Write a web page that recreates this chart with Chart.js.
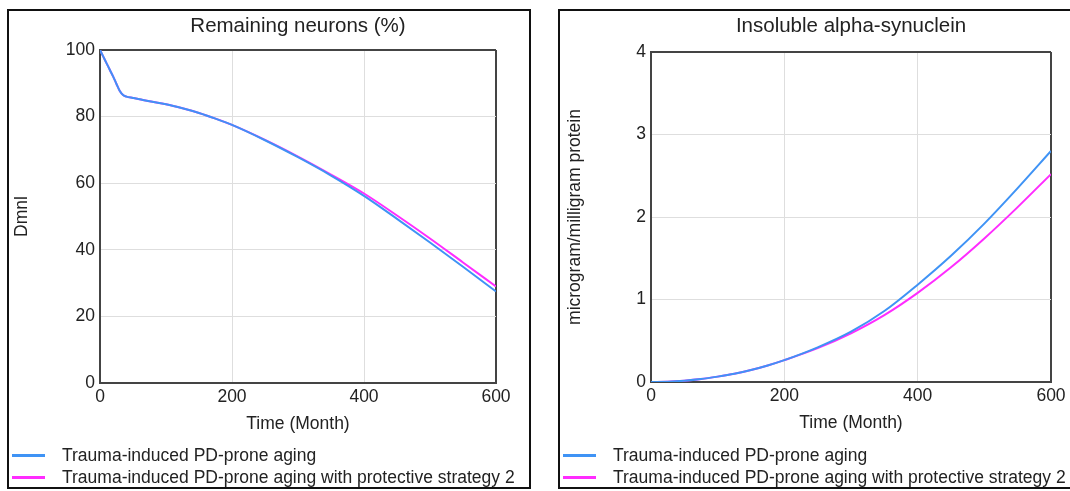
<!DOCTYPE html>
<html>
<head>
<meta charset="utf-8">
<script src="https://cdn.jsdelivr.net/npm/chart.js@4.4.1/dist/chart.umd.min.js"></script>
<style>
  body { margin: 0; background: #fff; width: 1070px; height: 491px; overflow: hidden; position: relative; font-family: "Liberation Sans", Arial, sans-serif; }
  .panel { position: absolute; top: 9px; width: 520px; height: 476px; border: 2px solid #111; background: #fff; }
  .box { position: absolute; left: 0; top: 0; width: 520px; height: 476px; }
  .legend { position: absolute; left: 0; top: 433px; font-size: 17.5px; color: #222; }
  .legend div { position: relative; height: 22px; line-height: 22px; padding-left: 53px; white-space: nowrap; }
  .legend span { position: absolute; left: 3px; top: 10px; width: 33px; height: 3px; }
</style>
</head>
<body>
<div class="panel" style="left:7px">
  <div class="box"><canvas id="neuronChart"></canvas></div>
  <div class="legend">
    <div><span style="background:#3f93f5"></span>Trauma-induced PD-prone aging</div>
    <div><span style="background:#ff2cff"></span>Trauma-induced PD-prone aging with protective strategy 2</div>
  </div>
</div>
<div class="panel" style="left:558px">
  <div class="box"><canvas id="synucleinChart"></canvas></div>
  <div class="legend">
    <div><span style="background:#3f93f5"></span>Trauma-induced PD-prone aging</div>
    <div><span style="background:#ff2cff"></span>Trauma-induced PD-prone aging with protective strategy 2</div>
  </div>
</div>
<script>
// Remaining neurons (%)
const neuronMonths = [0, 5, 10, 15, 20, 25, 30, 35, 40, 50, 60, 75, 100, 125, 150, 175, 200, 250, 300, 350, 400, 450, 500, 550, 600];
const neuronsAging = [100, 98, 96, 94, 92, 89.8, 87.7, 86.5, 86.0, 85.6, 85.2, 84.6, 83.7, 82.5, 81.1, 79.4, 77.5, 72.9, 67.8, 62.3, 56.2, 49.3, 42.2, 34.9, 27.5];
const neuronsStrategy2 = [100, 98, 96, 94, 92, 89.8, 87.7, 86.5, 86.0, 85.6, 85.2, 84.6, 83.7, 82.5, 81.1, 79.4, 77.5, 73.0, 68.0, 62.6, 56.9, 50.3, 43.4, 36.2, 29.0];

// Insoluble alpha-synuclein
const synMonths = [0, 25, 50, 75, 100, 125, 150, 175, 200, 250, 300, 350, 400, 450, 500, 550, 600];
const synAging = [0, 0.003, 0.015, 0.035, 0.065, 0.1, 0.145, 0.2, 0.265, 0.42, 0.61, 0.86, 1.18, 1.53, 1.92, 2.35, 2.80];
const synStrategy2 = [0, 0.003, 0.015, 0.035, 0.065, 0.1, 0.145, 0.2, 0.265, 0.41, 0.59, 0.81, 1.08, 1.39, 1.74, 2.12, 2.52];

const xTicks = [0, 200, 400, 600];
const seriesNames = ['Trauma-induced PD-prone aging', 'Trauma-induced PD-prone aging with protective strategy 2'];
const seriesColors = ['#3f93f5', '#ff2cff'];

const FONT = "'Liberation Sans', Arial, sans-serif";
const edge = '#444';
const grid = '#dedede';

function toPoints(xs, ys) {
    return xs.map((x, i) => ({ x: x, y: ys[i] }));
}

function makeChart(id, cfg) {
    const ctx = document.getElementById(id).getContext('2d');
    return new Chart(ctx, {
        type: 'line',
        data: {
            datasets: [
                { label: seriesNames[0], data: toPoints(cfg.xs, cfg.a), borderColor: seriesColors[0], borderWidth: 2 },
                { label: seriesNames[1], data: toPoints(cfg.xs, cfg.b), borderColor: seriesColors[1], borderWidth: 2 }
            ]
        },
        options: {
            responsive: true,
            maintainAspectRatio: false,
            animation: false,
            layout: { padding: { left: 0, right: cfg.padRight, top: 0, bottom: cfg.padBottom } },
            elements: {
                point: { radius: 0 },
                line: { cubicInterpolationMode: 'monotone', fill: false }
            },
            plugins: {
                legend: { display: false },
                tooltip: { enabled: false },
                title: {
                    display: true,
                    fullSize: false,
                    text: cfg.title,
                    color: '#222',
                    font: { size: 20.5, family: FONT, weight: 'normal' },
                    padding: { top: 3, bottom: cfg.titleGap }
                }
            },
            scales: {
                x: {
                    type: 'linear',
                    min: 0,
                    max: 600,
                    afterBuildTicks: (s) => { s.ticks = xTicks.map(v => ({ value: v })); },
                    afterFit: (s) => { s.height = 56; },
                    grid: {
                        drawTicks: false,
                        color: (c) => (c.tick && c.tick.value === 600 ? edge : grid),
                        lineWidth: (c) => (c.tick && c.tick.value === 600 ? 2 : 1)
                    },
                    border: { color: edge, width: 2 },
                    ticks: { color: '#222', padding: 4, font: { size: 17.5, family: FONT } },
                    title: { display: true, text: 'Time (Month)', color: '#222', padding: { top: 0, bottom: 4 }, font: { size: 17.5, family: FONT } }
                },
                y: {
                    min: 0,
                    max: cfg.yMax,
                    ticks: { stepSize: cfg.yStep, color: '#222', padding: 5, font: { size: 17.5, family: FONT } },
                    afterFit: (s) => { s.width = 91; },
                    grid: {
                        drawTicks: false,
                        color: (c) => (c.tick && c.tick.value === cfg.yMax ? edge : grid),
                        lineWidth: (c) => (c.tick && c.tick.value === cfg.yMax ? 2 : 1)
                    },
                    border: { color: edge, width: 2 },
                    title: { display: true, text: cfg.yTitle, color: '#222', padding: { top: cfg.yTitlePad, bottom: 0 }, font: { size: 17.5, family: FONT } }
                }
            }
        }
    });
}

document.addEventListener('DOMContentLoaded', function () {
    makeChart('neuronChart', {
        title: 'Remaining neurons (%)',
        xs: neuronMonths, a: neuronsAging, b: neuronsStrategy2,
        yMax: 100, yStep: 20, yTitle: 'Dmnl', yTitlePad: 3,
        padRight: 33, padBottom: 48, titleGap: 11.4
    });
    makeChart('synucleinChart', {
        title: 'Insoluble alpha-synuclein',
        xs: synMonths, a: synAging, b: synStrategy2,
        yMax: 4, yStep: 1, yTitle: 'microgram/milligram protein', yTitlePad: 5,
        padRight: 29, padBottom: 49, titleGap: 13.4
    });
});
</script>
</body>
</html>
